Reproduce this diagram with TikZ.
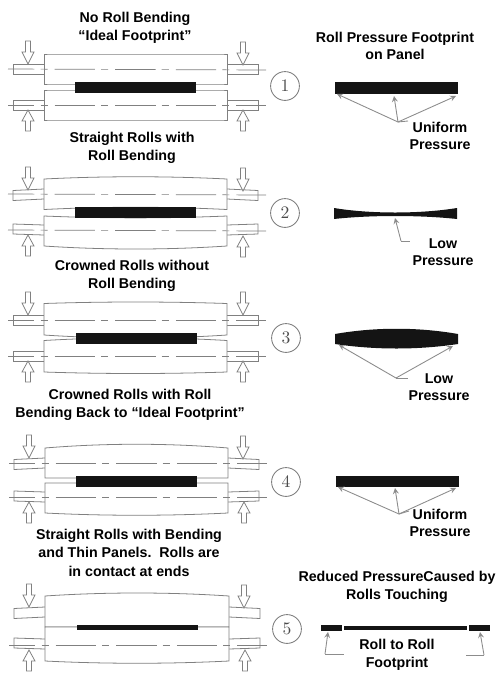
\documentclass[tikz,border=0pt]{standalone}
\usepackage{fontspec}
\usepackage{tikz}
\newfontfamily\headfont{Liberation Sans}[BoldFont={Liberation Sans Bold}]

\definecolor{rollgray}{gray}{0.5}
\definecolor{leadgray}{gray}{0.55}

\tikzset{
  rollline/.style={draw=rollgray, line width=0.45pt, fill=white},
  centerline/.style={draw=rollgray, line width=0.4pt, dash pattern=on 23pt off 3.5pt on 4pt off 4pt, dash phase=8pt},
  footprint/.style={fill=black!92},
  leader/.style={draw=leadgray, line width=0.5pt},
  tip/.style={draw=leadgray, line width=0.5pt, -stealth},
  heading/.style={font=\headfont\bfseries\fontsize{8.1}{9.9}\selectfont, align=center, text=black, inner sep=0pt},
  standno/.style={circle, draw=rollgray, line width=0.5pt, minimum size=16.4pt, inner sep=0pt, text=black!70, font=\fontsize{10}{10}\selectfont},
  press down/.pic={\draw[rollline] (-2.5,-23) -- (2.5,-23) -- (2.5,-12) -- (6,-12) -- (0,0) -- (-6,-12) -- (-2.5,-12) -- cycle;},
  press up/.pic={\draw[rollline] (-2.5,21) -- (2.5,21) -- (2.5,11) -- (6,11) -- (0,0) -- (-6,11) -- (-2.5,11) -- cycle;},
}

% body of one roll: x left, x right, top end, top ctrl, bottom end, bottom ctrl
\newcommand{\rollbody}[6]{
  \draw[rollline] (#1,#3) .. controls (#1+60,#4) and (#2-60,#4) .. (#2,#3) -- (#2,#5)
    .. controls (#2-60,#6) and (#1+60,#6) .. (#1,#5) -- cycle;
}
% both necks of one roll: x left, x right, center y, droop at the outer end
\newcommand{\rollnecks}[4]{
  \draw[rollline] (#1,#3-5) -- (#1-31,#3-5+#4) -- (#1-31,#3+5+#4) -- (#1,#3+5);
  \draw[rollline] (#2,#3-5) -- (#2+31,#3-5+#4) -- (#2+31,#3+5+#4) -- (#2,#3+5);
}

\begin{document}
\begin{tikzpicture}[x=0.02cm, y=-0.02cm]
  \useasboundingbox (0,0) rectangle (500,684);

  % stand 1
  \node[heading] (title1) at (135,28) {No Roll Bending\\“Ideal Footprint”};
  \rollnecks{44}{227}{69}{0}
  \rollnecks{44}{227}{105}{0}
  \rollbody{44}{227}{54}{54}{84}{84}
  \rollbody{44}{227}{90}{90}{120}{120}
  \draw[centerline] (8,69) -- (266,70);
  \draw[centerline] (8,105) -- (266,105);
  \fill[footprint] (75,81.5) rectangle (196,93);
  \pic at (28,64) {press down};
  \pic at (243,65) {press down};
  \pic at (28,110) {press up};
  \pic at (243,110) {press up};
  \node[standno] (no1) at (285,86) {1};

  % stand 2
  \node[heading] (title2) at (132,148) {Straight Rolls with\\Roll Bending};
  \rollnecks{44}{227}{194}{1.5}
  \rollnecks{44}{227}{230}{-1}
  \rollbody{44}{227}{179}{176}{209.5}{206.5}
  \rollbody{44}{227}{216}{218.5}{246}{250}
  \draw[centerline] (8,194) -- (266,195);
  \draw[centerline] (8,230) -- (266,231);
  \fill[footprint] (75,207) rectangle (196,218);
  \pic at (28,190) {press down};
  \pic at (243,191) {press down};
  \pic at (28,235) {press up};
  \pic at (243,236) {press up};
  \node[standno] (no2) at (285,213) {2};

  % stand 3
  \node[heading] (title3) at (132,276) {Crowned Rolls without\\Roll Bending};
  \rollnecks{44}{227}{320}{0}
  \rollnecks{44}{227}{356}{0}
  \rollbody{44}{227}{303.5}{301.5}{335}{339}
  \rollbody{44}{227}{340.5}{337}{372}{374}
  \draw[centerline] (8,320) -- (266,320);
  \draw[centerline] (8,356) -- (266,356);
  \fill[footprint] (75.5,332.5) rectangle (197,343.5);
  \pic at (28,315) {press down};
  \pic at (243,315) {press down};
  \pic at (28,361) {press up};
  \pic at (243,361) {press up};
  \node[standno] (no3) at (286,338) {3};

  % stand 4
  \node[heading] (title4) at (130,405) {Crowned Rolls with Roll\\Bending Back to “Ideal Footprint”};
  \rollnecks{45}{228}{463}{1.5}
  \rollnecks{45}{228}{497}{-1}
  \rollbody{45}{228}{448}{443}{478}{478}
  \rollbody{45}{228}{483}{483}{513}{516}
  \draw[centerline] (9,463) -- (267,463);
  \draw[centerline] (9,497) -- (267,497);
  \fill[footprint] (76,476) rectangle (197,487);
  \pic at (29,458) {press down};
  \pic at (243,459) {press down};
  \pic at (29,502) {press up};
  \pic at (244,502) {press up};
  \node[standno] (no4) at (286,482) {4};

  % stand 5
  \node[heading] (title5) at (129,553) {Straight Rolls with Bending\\and Thin Panels.\ \ Rolls are\\[1pt]in contact at ends};
  \rollnecks{45}{229}{612}{1.5}
  \rollnecks{45}{229}{644}{-1}
  \rollbody{45}{229}{596}{592}{627}{627}
  \rollbody{45}{229}{627}{627}{661}{664}
  \draw[centerline] (9,645) -- (267,645);
  \fill[footprint] (77,625) rectangle (198,630);
  \pic at (29,607) {press down};
  \pic at (244,608) {press down};
  \pic at (29,650) {press up};
  \pic at (245,650) {press up};
  \node[standno] (no5) at (287,629) {5};

  % footprints on panel
  \node[heading] (headfoot) at (395,46) {Roll Pressure Footprint\\on Panel};

  \fill[footprint] (335,82) rectangle (458,94);
  \coordinate (join1) at (398,122);
  \coordinate (tail1) at (408,121);
  \coordinate (tip1a) at (337,94);
  \coordinate (tip1b) at (394,96);
  \coordinate (tip1c) at (456,96);
  \draw[leader] (join1) -- (tail1);
  \draw[tip] (join1) -- (tip1a);
  \draw[tip] (join1) -- (tip1b);
  \draw[tip] (join1) -- (tip1c);
  \node[heading] (uniform1) at (440,136) {Uniform\\Pressure};

  \fill[footprint] (334,208) .. controls (370,214) and (420,214) .. (457,208) -- (457,219)
    .. controls (420,215) and (370,215) .. (334,219) -- cycle;
  \coordinate (join2) at (401,241);
  \coordinate (tail2) at (410,241);
  \coordinate (tip2) at (395,218);
  \draw[leader] (join2) -- (tail2);
  \draw[tip] (join2) -- (tip2);
  \node[heading] (low2) at (443,252) {Low\\Pressure};

  \fill[footprint] (335,334) .. controls (375,327) and (418,327) .. (458,334) -- (458,344)
    .. controls (418,350) and (375,350) .. (335,344) -- cycle;
  \coordinate (join3) at (396,378);
  \coordinate (tail3) at (408,378);
  \coordinate (tip3a) at (339,345);
  \coordinate (tip3b) at (453,346);
  \draw[leader] (join3) -- (tail3);
  \draw[tip] (join3) -- (tip3a);
  \draw[tip] (join3) -- (tip3b);
  \node[heading] (low3) at (439,387) {Low\\Pressure};

  \fill[footprint] (336,476) rectangle (459,487);
  \coordinate (join4) at (399,514);
  \coordinate (tail4) at (409,511);
  \coordinate (tip4a) at (338,487);
  \coordinate (tip4b) at (395,488);
  \coordinate (tip4c) at (456,488);
  \draw[leader] (join4) -- (tail4);
  \draw[tip] (join4) -- (tip4a);
  \draw[tip] (join4) -- (tip4b);
  \draw[tip] (join4) -- (tip4c);
  \node[heading] (uniform4) at (440,523) {Uniform\\Pressure};

  \node[heading] (headtouch) at (397,587) {Reduced PressureCaused by\\Rolls Touching};
  \fill[footprint] (321,625) rectangle (342,631);
  \fill[footprint] (344,626) rectangle (467,630);
  \fill[footprint] (469,625) rectangle (490,631);
  \coordinate (join5a) at (325,654);
  \coordinate (tail5a) at (344,654);
  \coordinate (tip5a) at (328,632);
  \coordinate (join5b) at (484,655);
  \coordinate (tail5b) at (466,655);
  \coordinate (tip5b) at (480,632);
  \draw[leader] (join5a) -- (tail5a);
  \draw[tip] (join5a) -- (tip5a);
  \draw[leader] (join5b) -- (tail5b);
  \draw[tip] (join5b) -- (tip5b);
  \node[heading] (rolltoroll) at (397,655) {Roll to Roll\\Footprint};
\end{tikzpicture}
\end{document}
